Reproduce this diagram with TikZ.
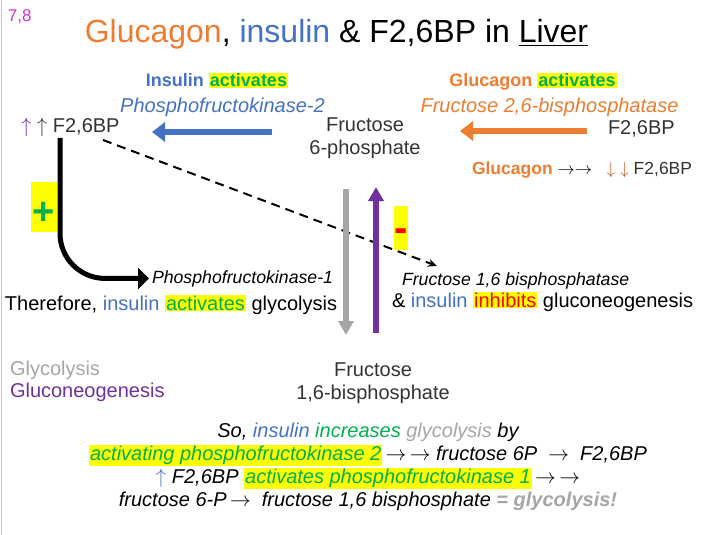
\documentclass[tikz,border=0pt]{standalone}
\usepackage{fontspec}
\setmainfont{Liberation Sans}
\usetikzlibrary{arrows.meta}
\definecolor{orng}{HTML}{ED7D31}
\definecolor{blu}{HTML}{4472C4}
\definecolor{grn}{HTML}{00B050}
\definecolor{purp}{HTML}{7030A0}
\definecolor{gry}{HTML}{A6A6A6}
\definecolor{hlyel}{HTML}{FFFF00}
\definecolor{rd}{HTML}{FF0000}
\definecolor{mag}{HTML}{CC33CC}
\definecolor{dk}{HTML}{333333}
\definecolor{dkorng}{HTML}{C55A11}
\newcommand{\hlg}[1]{{\setlength{\fboxsep}{1pt}\colorbox{hlyel}{\textcolor{grn}{#1}}}}
\newcommand{\hlr}[1]{{\setlength{\fboxsep}{1pt}\colorbox{hlyel}{\textcolor{rd}{#1}}}}
\newcommand{\ra}{$\rightarrow$}
\newcommand{\uparr}{$\uparrow$}
\newcommand{\dnarr}{$\downarrow$}
\tikzset{
  big/.style={font=\fontsize{20}{23}\selectfont},
  medit/.style={font=\fontsize{17.7}{21}\selectfont\itshape},
  hdr/.style={font=\fontsize{18}{21}\selectfont\bfseries},
  fatarrow/.style={line width=6pt, -{Triangle[length=13pt,width=19pt]}},
  vertarrow/.style={line width=6pt, -{Triangle[length=14pt,width=15pt]}},
  blackarrow/.style={line width=5pt, -{Triangle[length=11pt,width=21pt]}},
  dasharrow/.style={line width=2pt, dash pattern=on 9pt off 6pt, -{Stealth[length=9pt,width=8pt]}},
  signbox/.style={fill=hlyel, draw=none},
}
\begin{document}
\begin{tikzpicture}[x=1pt,y=-1pt, every node/.style={inner sep=0pt, outer sep=0pt}]
\useasboundingbox (0,0) rectangle (716,535);
\fill[white] (0,0) rectangle (716,535);
\draw[gray!45, line width=1pt] (1,0) -- (1,535);

% header
\node[anchor=base west, font=\fontsize{17}{20}\selectfont, text=mag] (num) at (8,22) {7,8};
\node[anchor=base, font=\fontsize{32}{38}\selectfont] (title) at (336.5,43)
  {\textcolor{orng}{Glucagon}, \textcolor{blu}{insulin} \& F2,6BP in \underline{Liver}};

% insulin side
\node[anchor=base, hdr] (insact) at (217,87) {\textcolor{blu}{Insulin} \hlg{activates}};
\node[anchor=base, text=blu, font=\fontsize{20}{23}\selectfont\itshape] (pfk2) at (222.5,113) {Phosphofructokinase-2};
\node[anchor=base west, big, text=dk] (f26L) at (21,133) {\textcolor{purp}{\uparr}\ \uparr\ F2,6BP};

% fructose 6-phosphate
\node[anchor=north, big, text=dk, align=center] (f6p) at (365,117.4) {Fructose\\6-phosphate};

% glucagon side
\node[anchor=base, hdr] (glucact) at (533,87) {\textcolor{orng}{Glucagon} \hlg{activates}};
\node[anchor=base, text=orng, font=\fontsize{20}{23}\selectfont\itshape] (fbp2) at (549.5,113) {Fructose 2,6-bisphosphatase};
\node[anchor=base west, big, text=dk] (f26R) at (608,135) {F2,6BP};
\node[anchor=base west, font=\fontsize{17.5}{21}\selectfont, text=dk] (glucdown) at (472,175)
  {\textcolor{orng}{\bfseries Glucagon} \textcolor{black}{\ra\ra} \ \ \textcolor{dkorng}{\dnarr\ \dnarr} F2,6BP};

% horizontal fat arrows
\coordinate (b0) at (272,132);
\coordinate (b1) at (152,132);
\draw[fatarrow, blu] (b0) -- (b1);
\coordinate (o0) at (587,131);
\coordinate (o1) at (460,131);
\draw[fatarrow, orng] (o0) -- (o1);

% PFK-1 activation
\node[anchor=base west, medit] (pfk1) at (152,283) {Phosphofructokinase-1};
\coordinate (k0) at (60,138);
\draw[blackarrow, rounded corners=45pt] (k0) |- ([xshift=-3pt]pfk1.west);
\node[signbox, minimum width=26pt, minimum height=50pt] (plusbox) at (44,207) {};
\node[anchor=base, text=grn, font=\fontsize{38}{40}\selectfont\bfseries] (plus) at (44,224) {+};
\node[anchor=base west, big] (therefore) at (5,310)
  {Therefore, \textcolor{blu}{insulin} \hlg{activates} glycolysis};

% dashed inhibition
\coordinate (d0) at (103,140);
\coordinate (d1) at (437,266);
\draw[dasharrow] (d0) -- (d1);

% vertical arrows
\coordinate (g0) at (346,189);
\coordinate (g1) at (346,335);
\draw[vertarrow, gry] (g0) -- (g1);
\coordinate (p0) at (376,333);
\coordinate (p1) at (376,187);
\draw[vertarrow, purp] (p0) -- (p1);

\node[signbox, minimum width=14pt, minimum height=44pt] (minusbox) at (401,228) {};
\node[anchor=base, text=rd, font=\fontsize{40}{42}\selectfont\bfseries] (minus) at (401,241.6) {-};

\node[anchor=base west, medit] (fbp1) at (402,285) {Fructose 1,6 bisphosphatase};
\node[anchor=base west, big] (inhib) at (392,307)
  {\& \textcolor{blu}{insulin} \hlr{inhibits} gluconeogenesis};

% legend
\node[anchor=base west, big, text=gry] (leg1) at (10,375) {Glycolysis};
\node[anchor=base west, big, text=purp] (leg2) at (10,397) {Gluconeogenesis};

% fructose 1,6-bisphosphate
\node[anchor=north, big, text=dk, align=center] (f16bp) at (373,362.4) {Fructose\\1,6-bisphosphate};

% summary
\node[anchor=north, align=center, font=\fontsize{20}{23}\selectfont\itshape] (summary) at (368,423.4)
  {So, \textcolor{blu}{insulin} \textcolor{grn}{increases} \textcolor{gry}{glycolysis} by\\
   \hlg{activating phosphofructokinase 2}\,\ra\,\ra\ fructose 6P \ \ra\ \ F2,6BP\\
   \textcolor{blu}{\uparr} F2,6BP \hlg{activates phosphofructokinase 1}\,\ra\,\ra\\
   fructose 6-P\,\ra\ \ fructose 1,6 bisphosphate \textcolor{gry}{\bfseries = glycolysis!}};
\end{tikzpicture}
\end{document}
